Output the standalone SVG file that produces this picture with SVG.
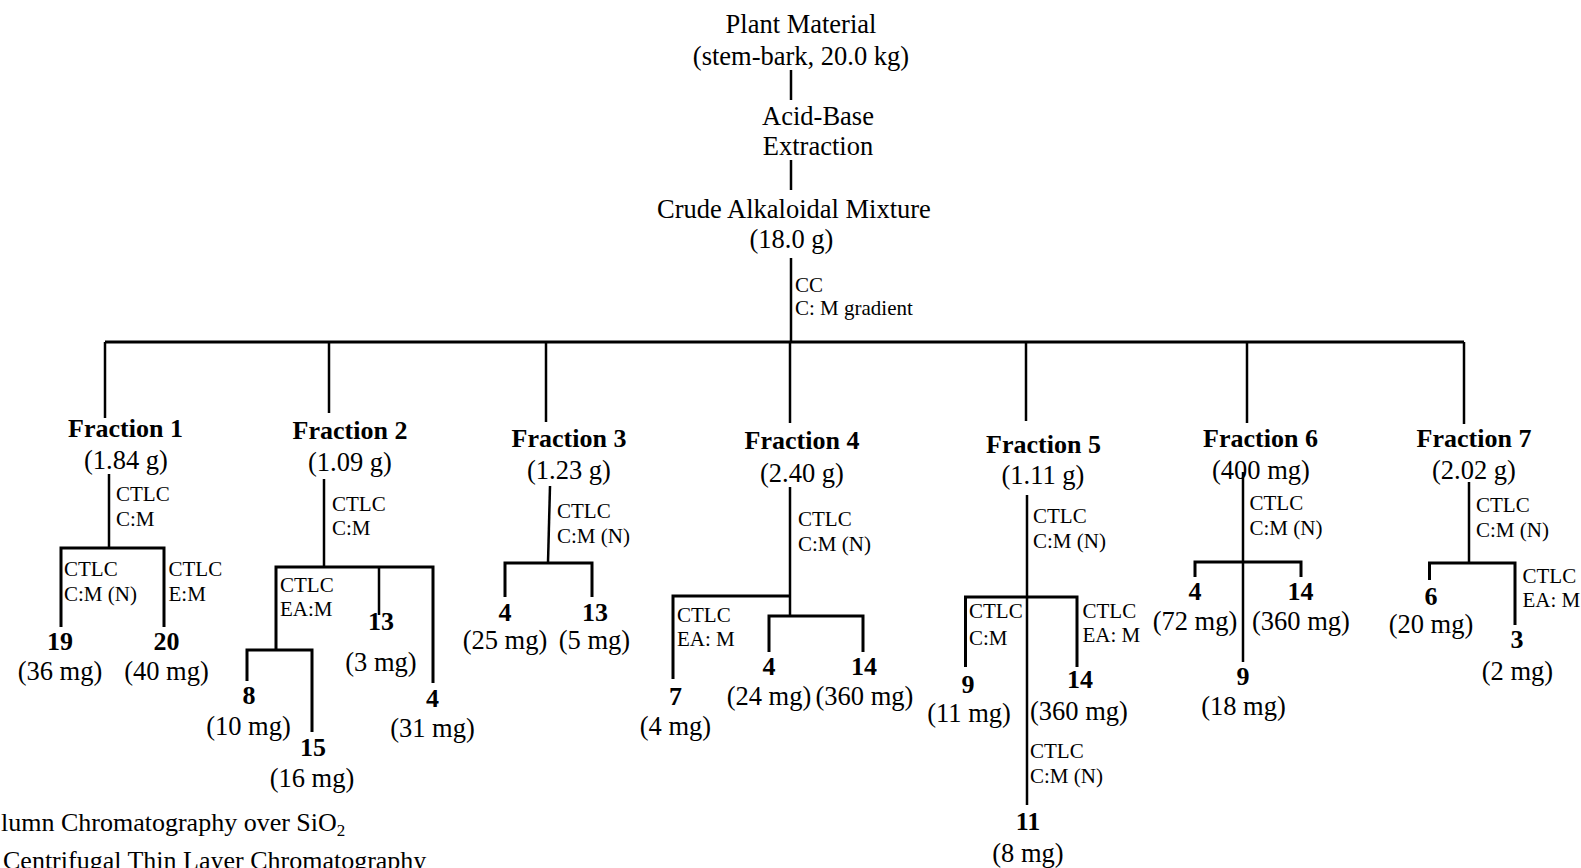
<svg xmlns="http://www.w3.org/2000/svg" width="1581" height="868" viewBox="0 0 1581 868">
<style>
.t{font-family:"Liberation Serif","Times New Roman",serif;font-size:26.5px;fill:#000;text-anchor:middle}
.b{font-family:"Liberation Serif","Times New Roman",serif;font-size:26px;font-weight:bold;fill:#000;text-anchor:middle}
.l{font-family:"Liberation Serif","Times New Roman",serif;font-size:21px;fill:#000}
.g{font-family:"Liberation Serif","Times New Roman",serif;font-size:26px;fill:#000}
.c line,.c polyline{stroke:#000;stroke-width:2.5;fill:none}
.c .h{stroke-width:3}
</style>
<rect width="1581" height="868" fill="#fff"/>
<g id="connectors" class="c">
<line x1="791" y1="70" x2="791" y2="100"/>
<line x1="791" y1="160" x2="791" y2="190"/>
<line x1="791" y1="258" x2="791" y2="342"/>
<line class="h" x1="105" y1="342" x2="1464" y2="342"/>
<line x1="105" y1="342" x2="105" y2="418"/>
<line x1="329" y1="342" x2="329" y2="413"/>
<line x1="546" y1="342" x2="546" y2="422"/>
<line x1="790" y1="342" x2="790" y2="423"/>
<line x1="1026" y1="342" x2="1026" y2="421"/>
<line x1="1247" y1="342" x2="1247" y2="423"/>
<line x1="1464" y1="342" x2="1464" y2="424"/>
<line x1="109" y1="474" x2="109" y2="548"/>
<polyline class="h" points="61,627 61,548 164,548 164,627"/>
<line x1="324" y1="479" x2="324" y2="567"/>
<polyline class="h" points="276,650 276,567 433,567 433,683"/>
<line x1="379" y1="567" x2="379" y2="615"/>
<polyline class="h" points="247,681 247,650 312,650 312,732"/>
<line x1="550" y1="486" x2="548" y2="563"/>
<polyline class="h" points="505,597 505,563 592,563 592,597"/>
<line x1="790" y1="487" x2="790" y2="616"/>
<polyline class="h" points="673,679 673,596 790,596"/>
<polyline class="h" points="769,652 769,616 863,616 863,652"/>
<line x1="1027" y1="495" x2="1027" y2="805"/>
<polyline class="h" points="965.5,667 965.5,597 1077,597 1077,667"/>
<line x1="1243" y1="472" x2="1243" y2="662"/>
<polyline class="h" points="1195,577 1195,562 1301,562 1301,577"/>
<line x1="1469" y1="482" x2="1469" y2="563"/>
<polyline class="h" points="1429.5,580 1429.5,563 1515,563 1515,625"/>
</g>
<g id="edge-labels" class="l">
<text x="795" y="292">CC</text><text x="795" y="315">C: M gradient</text>
<text x="116" y="501">CTLC</text><text x="116" y="526">C:M</text>
<text x="64" y="576">CTLC</text><text x="64" y="601">C:M (N)</text>
<text x="168.5" y="576">CTLC</text><text x="168.5" y="601">E:M</text>
<text x="332" y="511">CTLC</text><text x="332" y="535">C:M</text>
<text x="280" y="592">CTLC</text><text x="280" y="616">EA:M</text>
<text x="557" y="518">CTLC</text><text x="557" y="543">C:M (N)</text>
<text x="798" y="526">CTLC</text><text x="798" y="551">C:M (N)</text>
<text x="677" y="622">CTLC</text><text x="677" y="646">EA: M</text>
<text x="1033" y="523">CTLC</text><text x="1033" y="548">C:M (N)</text>
<text x="969" y="618">CTLC</text><text x="969" y="645">C:M</text>
<text x="1082.5" y="618">CTLC</text><text x="1082.5" y="642">EA: M</text>
<text x="1030" y="758">CTLC</text><text x="1030" y="783">C:M (N)</text>
<text x="1249.5" y="510">CTLC</text><text x="1249.5" y="535">C:M (N)</text>
<text x="1476" y="512">CTLC</text><text x="1476" y="537">C:M (N)</text>
<text x="1522.5" y="583">CTLC</text><text x="1522.5" y="607">EA: M</text>
</g>
<g id="plant"><text class="t" x="801" y="33">Plant Material</text><text class="t" x="801" y="65">(stem-bark, 20.0 kg)</text></g>
<g id="extraction"><text class="t" x="818" y="125">Acid-Base</text><text class="t" x="818" y="155">Extraction</text></g>
<g id="crude"><text class="t" x="794" y="218">Crude Alkaloidal Mixture</text><text class="t" x="791.5" y="248">(18.0 g)</text></g>
<g id="fraction1"><text class="b" x="125.5" y="437">Fraction 1</text><text class="t" x="126" y="469">(1.84 g)</text></g>
<g id="fraction2"><text class="b" x="350" y="439">Fraction 2</text><text class="t" x="350" y="471">(1.09 g)</text></g>
<g id="fraction3"><text class="b" x="569" y="446.5">Fraction 3</text><text class="t" x="569" y="479">(1.23 g)</text></g>
<g id="fraction4"><text class="b" x="802" y="449">Fraction 4</text><text class="t" x="802" y="481.5">(2.40 g)</text></g>
<g id="fraction5"><text class="b" x="1043.5" y="452.5">Fraction 5</text><text class="t" x="1043" y="484">(1.11 g)</text></g>
<g id="fraction6"><text class="b" x="1260.5" y="446.5">Fraction 6</text><text class="t" x="1261" y="479">(400 mg)</text></g>
<g id="fraction7"><text class="b" x="1474" y="446.5">Fraction 7</text><text class="t" x="1474" y="479">(2.02 g)</text></g>
<g id="f1-c19"><text class="b" x="60" y="650">19</text><text class="t" x="60" y="680">(36 mg)</text></g>
<g id="f1-c20"><text class="b" x="166.5" y="650">20</text><text class="t" x="166.5" y="680">(40 mg)</text></g>
<g id="f2-c13"><text class="b" x="381" y="630">13</text><text class="t" x="381" y="671">(3 mg)</text></g>
<g id="f2-c4"><text class="b" x="432.5" y="706.5">4</text><text class="t" x="432.5" y="736.5">(31 mg)</text></g>
<g id="f2-c8"><text class="b" x="249" y="704">8</text><text class="t" x="248.5" y="735">(10 mg)</text></g>
<g id="f2-c15"><text class="b" x="313" y="756">15</text><text class="t" x="312" y="786.5">(16 mg)</text></g>
<g id="f3-c4"><text class="b" x="505" y="621">4</text><text class="t" x="505" y="648.5">(25 mg)</text></g>
<g id="f3-c13"><text class="b" x="595" y="621">13</text><text class="t" x="594.5" y="648.5">(5 mg)</text></g>
<g id="f4-c7"><text class="b" x="675.5" y="705">7</text><text class="t" x="675.5" y="735">(4 mg)</text></g>
<g id="f4-c4"><text class="b" x="769" y="675">4</text><text class="t" x="769" y="705">(24 mg)</text></g>
<g id="f4-c14"><text class="b" x="864" y="675">14</text><text class="t" x="864.5" y="705">(360 mg)</text></g>
<g id="f5-c9"><text class="b" x="968" y="693">9</text><text class="t" x="969" y="721.5">(11 mg)</text></g>
<g id="f5-c14"><text class="b" x="1080" y="688">14</text><text class="t" x="1079" y="720">(360 mg)</text></g>
<g id="f5-c11"><text class="b" x="1028" y="830">11</text><text class="t" x="1028" y="861.5">(8 mg)</text></g>
<g id="f6-c4"><text class="b" x="1195" y="600">4</text><text class="t" x="1195" y="630">(72 mg)</text></g>
<g id="f6-c14"><text class="b" x="1300.5" y="600">14</text><text class="t" x="1301" y="630">(360 mg)</text></g>
<g id="f6-c9"><text class="b" x="1243" y="685">9</text><text class="t" x="1243.5" y="715">(18 mg)</text></g>
<g id="f7-c6"><text class="b" x="1431" y="605">6</text><text class="t" x="1431" y="633">(20 mg)</text></g>
<g id="f7-c3"><text class="b" x="1517" y="648">3</text><text class="t" x="1517.5" y="680">(2 mg)</text></g>
<g id="legend">
<text class="g" x="1" y="831">lumn Chromatography over SiO<tspan font-size="17" dy="5">2</tspan></text>
<text class="g" x="3" y="869">Centrifugal Thin Layer Chromatography</text>
</g>
</svg>
